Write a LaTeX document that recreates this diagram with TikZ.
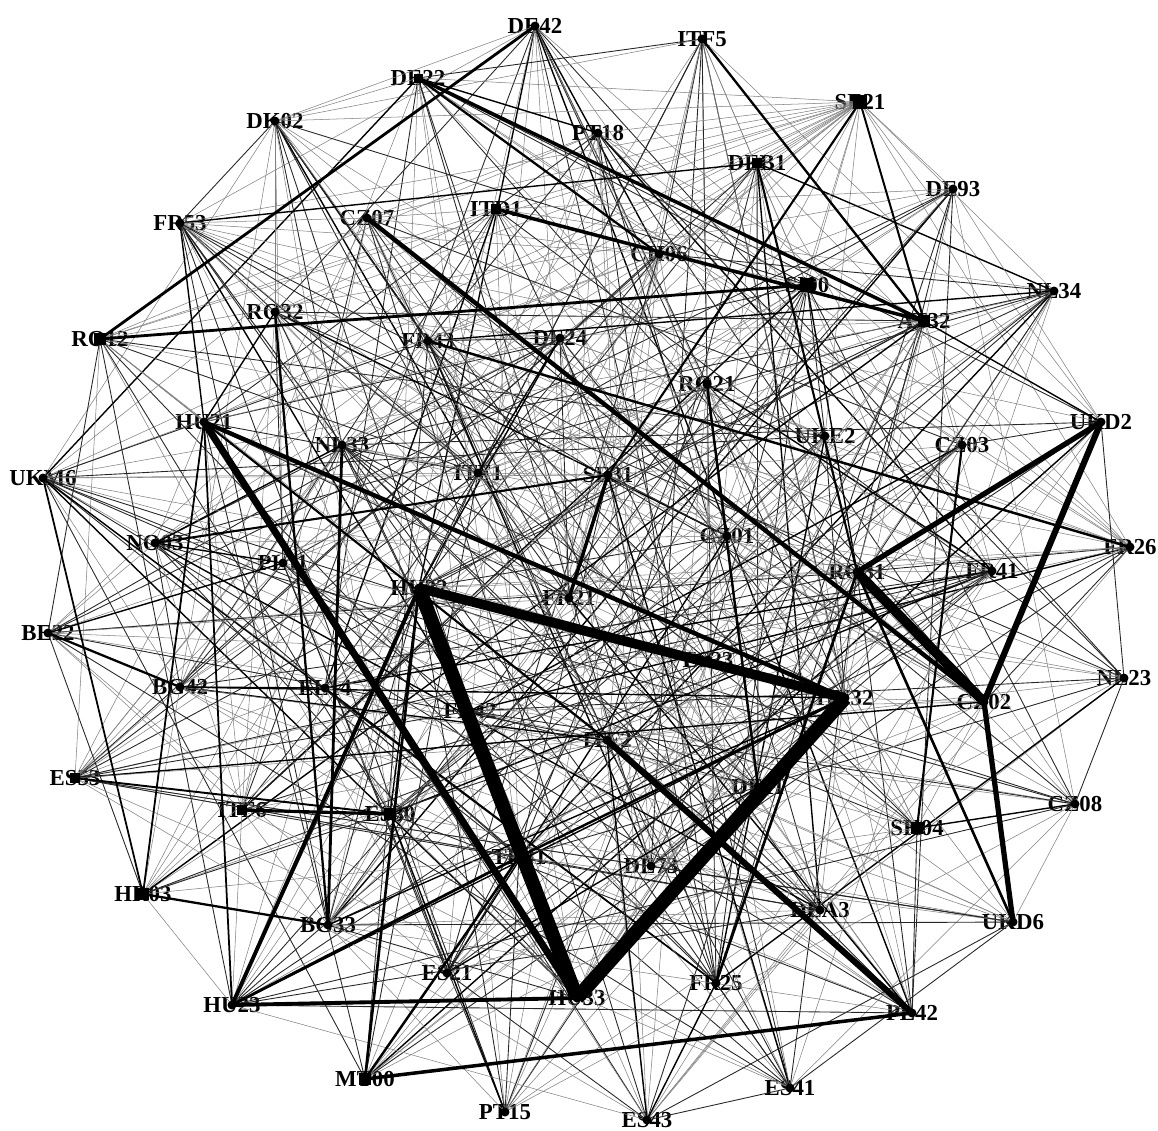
\documentclass[tikz,border=0pt]{standalone}
\usepackage{fontspec}
\setmainfont{Liberation Serif}

\tikzset{
  lbl/.style={font=\bfseries\fontsize{13}{13}\selectfont, inner sep=0pt},
  faint/.style={line width=0.3pt, black!50},
  plain/.style={line width=0.5pt, black!85},
  firm/.style={line width=0.8pt, black},
  tie/.style={line width=#1, black}
}

% regions in the order used for the thin links
\def\nuts{DE42,ITF5,SE21,DE22,DK02,PT18,DEB1,DE93,FR53,CZ07,ITD1,CH06,SI00,NL34,RO12,RO32,FR43,DE24,AT32,RO21,UKD2,HU21,NL33,UKE2,CZ03,UKM6,ITF1,SE31,NO03,PL11,CZ01,FR26,RO31,FR41,HU22,FR21,BE22,ES23,NL23,BG42,EL14,FR42,HU32,CZ02,ITF2,ES53,ITF6,ES30,DE11,CZ08,SK04,TR41,DE73,HR03,BG33,DEA3,UKD6,HU23,ES21,HU33,FR25,PL42,MT00,PT15,ES43,ES41}

\begin{document}
\begin{tikzpicture}[x=0.02cm, y=-0.02cm]
  \useasboundingbox (0,0) rectangle (1158,1130);

  % labels (nodes sit at the marker centres)
  \foreach \n/\x/\y in {DE42/535/26, ITF5/702/39, SE21/860/102, DE22/418/78,
      DK02/275/121, PT18/598/133, DEB1/757/163, DE93/953/189, FR53/180/223,
      CZ07/367/218, ITD1/496/209, CH06/659/254, SI00/807/285, NL34/1054/291,
      RO12/100/339, RO32/275/312, FR43/428/341, DE24/560/338, AT32/924/321,
      RO21/707/384, UKD2/1101/422, HU21/204/422, NL33/342/445, UKE2/825/436,
      CZ03/962/445, UKM6/43/478, ITF1/478/473, SE31/608/475, NO03/155/543,
      PL11/283/563, CZ01/727/536, FR26/1130/547, RO31/857/572, FR41/992/571,
      HU22/419/588, FR21/569/598, BE22/48/633, ES23/708/660, NL23/1124/678,
      BG42/180/687, EL14/325/688, FR42/470/711, HU32/845/698, CZ02/984/702,
      ITF2/607/740, ES53/75/778, ITF6/242/810, ES30/390/814, DE11/758/787,
      CZ08/1075/804, SK04/917/828, TR41/519/857, DE73/651/866, HR03/143/894,
      BG33/328/925, DEA3/820/910, UKD6/1013/922, HU23/232/1005, ES21/447/973,
      HU33/577/998, FR25/716/983, PL42/912/1013, MT00/365/1079, PT15/505/1112,
      ES43/647/1120, ES41/790/1088}
    \node[lbl] (\n) at (\x,\y) {\n};

  % thin links
  \foreach \a [count=\i] in \nuts {
    \foreach \b [count=\j] in \nuts {
      \ifnum\j>\i
        \pgfmathtruncatemacro\h{mod(\i*37+\j*61+mod(\i*\j,97)*13,100)}
        \ifnum\h<15 \draw[faint] (\a.center) -- (\b.center); \fi
        \ifnum\h>14 \ifnum\h<25 \draw[plain] (\a.center) -- (\b.center); \fi\fi
        \ifnum\h>24 \ifnum\h<28 \draw[firm] (\a.center) -- (\b.center); \fi\fi
      \fi
    }
  }

  % strong links
  \foreach \a/\b/\w in {HU22/HU33/8pt, HU32/HU33/8pt, HU22/HU32/5.5pt,
      RO31/CZ02/5.5pt, HU21/HU33/4pt, UKD2/CZ02/3.5pt, UKD2/RO31/3pt,
      CZ02/UKD6/3pt, ITF2/PL42/3.5pt, HU21/HU32/2.5pt, CZ07/CZ02/2.5pt,
      HU23/HU33/2.2pt, HU23/HU22/2.2pt, MT00/PL42/2pt, SE31/FR21/2pt,
      ITD1/AT32/2pt, DE22/AT32/2pt, DE42/RO12/1.6pt, RO12/SI00/1.6pt,
      ITF6/ES30/1.8pt, NL33/BG33/1.6pt, HU23/TR41/1.6pt, RO31/FR25/1.5pt,
      RO31/UKD6/1.5pt, FR43/FR26/1.4pt, DE22/CH06/1.3pt, ITF5/AT32/1.3pt,
      BE22/BG42/1.3pt, HR03/BG33/1.3pt, NO03/SE31/1.2pt, MT00/HU22/1.5pt,
      RO32/BG33/1.3pt, RO21/DE11/1.4pt, SE21/AT32/1.1pt, ES53/ES30/1.1pt,
      HU21/ITF2/1.2pt, HR03/HU21/1pt, UKM6/HR03/1pt, HU21/HU23/1pt,
      CZ03/SK04/1.2pt, TR41/HU32/1.4pt, MT00/TR41/1.4pt, SE21/SE31/1.2pt,
      DEB1/RO31/1.2pt}
    \draw[tie=\w] (\a.center) -- (\b.center);

  % markers
  \foreach \n in \nuts
    \fill (\n.center) circle[radius=0.09cm];
  \foreach \n/\s in {SE21/7, SI00/7, RO12/6, AT32/6, HR03/6, MT00/6, SK04/6,
      ES30/6, DEB1/5, ITD1/5, ITF6/5, ES53/5, DE22/4.5}
    \fill (\n.center) +(-\s,-\s) rectangle +(\s,\s);
\end{tikzpicture}
\end{document}
